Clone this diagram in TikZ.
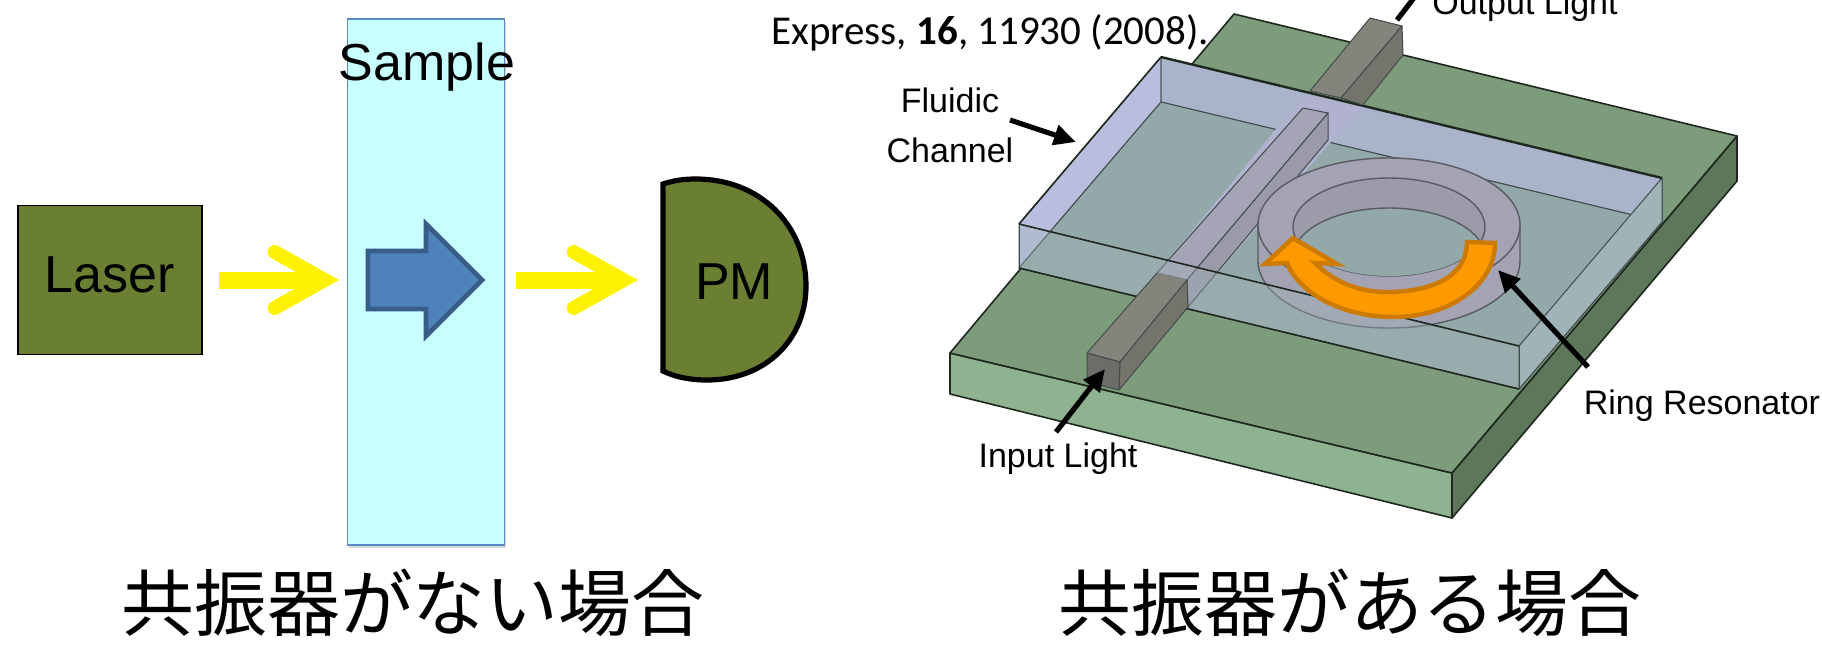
\documentclass[tikz,border=0pt]{standalone}
\usepackage{fontspec}
\setmainfont{Liberation Sans}
\newfontfamily\jpfont{Noto Sans CJK JP}
\newfontfamily\citefont{Carlito}
\usetikzlibrary{arrows.meta,shadows}

\begin{document}
\begin{tikzpicture}[x=0.5pt,y=-0.5pt]
	\definecolor{lasergreen}{RGB}{107,127,51}
	\definecolor{samplecyan}{RGB}{200,255,255}
	\definecolor{sampleedge}{RGB}{91,139,196}
	\definecolor{bluefill}{RGB}{79,129,189}
	\definecolor{blueedge}{RGB}{56,93,138}
	\definecolor{slabtop}{RGB}{125,156,124}
	\definecolor{slabfront}{RGB}{141,179,145}
	\definecolor{slabside}{RGB}{92,119,90}
	\definecolor{guidetop}{RGB}{132,132,124}
	\definecolor{guideside}{RGB}{116,116,108}
	\definecolor{guideend}{RGB}{110,108,104}
	\definecolor{chanfloor}{RGB}{147,168,168}
	\definecolor{chanback}{RGB}{169,180,203}
	\definecolor{chanleft}{RGB}{185,190,222}
	\definecolor{chanfront}{RGB}{162,179,184}
	\definecolor{chanright}{RGB}{160,179,184}
	\definecolor{ringgray}{RGB}{163,163,179}
	\definecolor{guidepurple}{RGB}{165,164,182}
	\definecolor{guidelav}{RGB}{176,178,208}
	\definecolor{arcfill}{RGB}{255,153,0}
	\definecolor{arcedge}{RGB}{204,122,0}
	\tikzset{
		lab/.style={anchor=base, font=\fontsize{26}{30}\selectfont, inner sep=0pt},
		smalllab/.style={anchor=base, font=\fontsize{17}{20}\selectfont, inner sep=0pt},
		caption/.style={anchor=base, font=\jpfont\fontsize{36.4}{42}\selectfont, inner sep=0pt},
		laserbox/.style={
			draw=black, line width=0.8pt, fill=lasergreen, minimum width=92pt,
			minimum height=74.5pt, inner sep=0pt, text depth=5pt,
			font=\fontsize{26}{30}\selectfont
		},
		samplebox/.style={
			draw=sampleedge, line width=0.8pt, fill=samplecyan, minimum width=78.5pt,
			minimum height=263pt, inner sep=0pt,
			drop shadow={shadow xshift=0.6pt, shadow yshift=-1.5pt, opacity=0.3}
		},
		beam/.style={
			draw=yellow, line width=8.5pt,
			-{Straight Barb[length=25pt,width=28pt,line width=7pt,line cap=round,line join=miter]}
		},
		callout/.style={
			draw=black, line width=2.6pt, -{Triangle[length=11pt,width=10pt]}
		},
		edge/.style={draw=black!75!slabtop, line width=0.8pt, line join=round},
		thinedge/.style={draw=black!55!chanfloor, line width=0.5pt, line join=round},
		ringedge/.style={draw=black!45!ringgray, line width=0.7pt}
	}
	\useasboundingbox (0,0) rectangle (1822,650);

	% ======= left: no resonator =======
	\node[laserbox] (laser) at (110,280) {Laser};
	\node[samplebox] (sample) at (426,282) {};
	\node[lab] (samplelab) at (427,80) {Sample};

	\coordinate (beamA) at (219,280);
	\coordinate (beamB) at (339,280);
	\coordinate (beamC) at (516,280);
	\coordinate (beamD) at (638,280);
	\draw[beam] (beamA) -- (beamB);
	\draw[beam] (beamC) -- (beamD);

	\draw[draw=blueedge, fill=bluefill, line width=2.4pt, line join=miter]
		(368,251) -- (426,251) -- (426,224) -- (482,280) -- (426,336) -- (426,309) -- (368,309) -- cycle;

	\draw[draw=black, fill=lasergreen, line width=2.6pt]
		(663,184) .. controls (675,180) and (685,179) .. (696,179)
		.. controls (760,179) and (806,225) .. (806,286)
		.. controls (806,340) and (765,380) .. (707,380)
		.. controls (690,380) and (675,377) .. (663,371) -- cycle;
	\node[lab] (pm) at (734,299) {PM};

	% ======= right: slab =======
	\draw[edge, fill=slabfront] (950,353) -- (1452,473) -- (1452,518) -- (950,394) -- cycle;
	\draw[edge, fill=slabside] (1452,473) -- (1737,136) -- (1737,181) -- (1452,518) -- cycle;
	\draw[edge, fill=slabtop] (1234,14) -- (1737,136) -- (1452,473) -- (950,353) -- cycle;

	% ======= channel walls =======
	\draw[thinedge, fill=chanleft] (1161,57) -- (1161,102) -- (1019,268) -- (1019,224) -- cycle;
	\draw[thinedge, fill=chanback] (1161,57) -- (1662,178) -- (1662,222) -- (1161,102) -- cycle;
	\draw[thinedge, fill=chanfloor] (1161,102) -- (1662,222) -- (1519,389) -- (1019,268) -- cycle;

	% ======= guide inside channel =======
	\fill[guidelav] (1307,95) -- (1362,107) -- (1330,143) -- (1188,307) -- (1157,273) -- (1277,128) -- cycle;
	\draw[thinedge, fill=guidepurple] (1303,108) -- (1328,113) -- (1187,280) -- (1157,273) -- cycle;
	\draw[thinedge, fill=guidepurple!94!black] (1328,113) -- (1328,140) -- (1188,307) -- (1187,280) -- cycle;

	% ======= ring =======
	\draw[ringedge, fill=ringgray] (1258,225) -- (1258,261)
		arc [start angle=180, end angle=0, x radius=131, y radius=67] -- (1520,225) -- cycle;
	\draw[ringedge, fill=ringgray] (1389,225) ellipse [x radius=131, y radius=67];
	\draw[ringedge, fill=ringgray!95!black] (1389,227) ellipse [x radius=96, y radius=49];
	\begin{scope}
		\clip (1389,227) ellipse [x radius=96, y radius=49];
		\draw[ringedge, fill=chanfloor] (1389,257) ellipse [x radius=96, y radius=49];
	\end{scope}

	% ======= channel front, over the ring =======
	\fill[chanfront, fill opacity=0.35] (1019,224) -- (1519,346) -- (1519,389) -- (1019,268) -- cycle;
	\draw[thinedge, fill=chanright] (1662,178) -- (1662,222) -- (1519,389) -- (1519,346) -- cycle;
	\draw[edge] (1019,224) -- (1519,346);
	\draw[thinedge] (1019,224) -- (1019,268) (1519,346) -- (1519,389);
	\draw[edge] (1019,268) -- (1519,389);
	\draw[edge] (1019,224) -- (1161,57);
	\draw[edge, line width=1.2pt] (1161,57) -- (1662,178);

	% ======= guide outside channel =======
	\draw[thinedge, fill=guidetop] (1370,18) -- (1402,26) -- (1341,98) -- (1310,91) -- cycle;
	\draw[thinedge, fill=guideside] (1402,26) -- (1403,55) -- (1363,105) -- (1341,98) -- cycle;
	\draw[thinedge, fill=guidetop, draw=none] (1087,353) -- (1120,362) -- (1187,280) -- (1157,273) -- cycle;
	\draw[thinedge] (1157,273) -- (1087,353) -- (1120,362) -- (1187,280);
	\draw[thinedge, fill=guideside] (1120,362) -- (1119,390) -- (1188,307) -- (1187,280) -- cycle;
	\draw[thinedge, fill=guideend] (1087,353) -- (1120,362) -- (1119,390) -- (1087,382) -- cycle;

	% ======= orange arc =======
	\draw[draw=arcedge, fill=arcfill, line width=2.2pt, line join=miter]
		(1495,243) .. controls (1495,285) and (1450,317) .. (1393,317)
		.. controls (1345,317) and (1300,295) .. (1287,263)
		-- (1265,264) -- (1293,238) -- (1337,264) -- (1315,263)
		.. controls (1335,283) and (1360,292) .. (1387,292)
		.. controls (1425,292) and (1467,280) .. (1467,242) -- cycle;

	% ======= labels =======
	\node[smalllab] (fluidlab) at (950,112) {Fluidic};
	\node[smalllab] (chanlab) at (950,162) {Channel};
	\node[smalllab] (inputlab) at (1058,467) {Input Light};
	\node[smalllab] (ringlab) at (1702,414) {Ring Resonator};
	\node[smalllab] (outputlab) at (1525,14) {Output Light};

	\coordinate (fluidtail) at (1010,120);
	\coordinate (fluidtip) at (1076,142);
	\coordinate (inputtail) at (1056,432);
	\coordinate (inputtip) at (1105,369);
	\coordinate (ringtail) at (1588,367);
	\coordinate (ringtip) at (1498,270);
	\coordinate (outputtail) at (1397,20);
	\coordinate (outputhead) at (1420,-10);
	\draw[callout] (fluidtail) -- (fluidtip);
	\draw[callout] (inputtail) -- (inputtip);
	\draw[callout] (ringtail) -- (ringtip);
	\draw[draw=black, line width=2.6pt] (outputtail) -- (outputhead);

	\node[anchor=base west, inner sep=0pt, font=\citefont\fontsize{20.5}{24}\selectfont] (citelab) at (771,44) {Express, \textbf{16}, 11930 (2008).};

	% ======= captions =======
	\node[caption] (capnone) at (413,630) {共振器がない場合};
	\node[caption] (capring) at (1350,630) {共振器がある場合};
\end{tikzpicture}
\end{document}
